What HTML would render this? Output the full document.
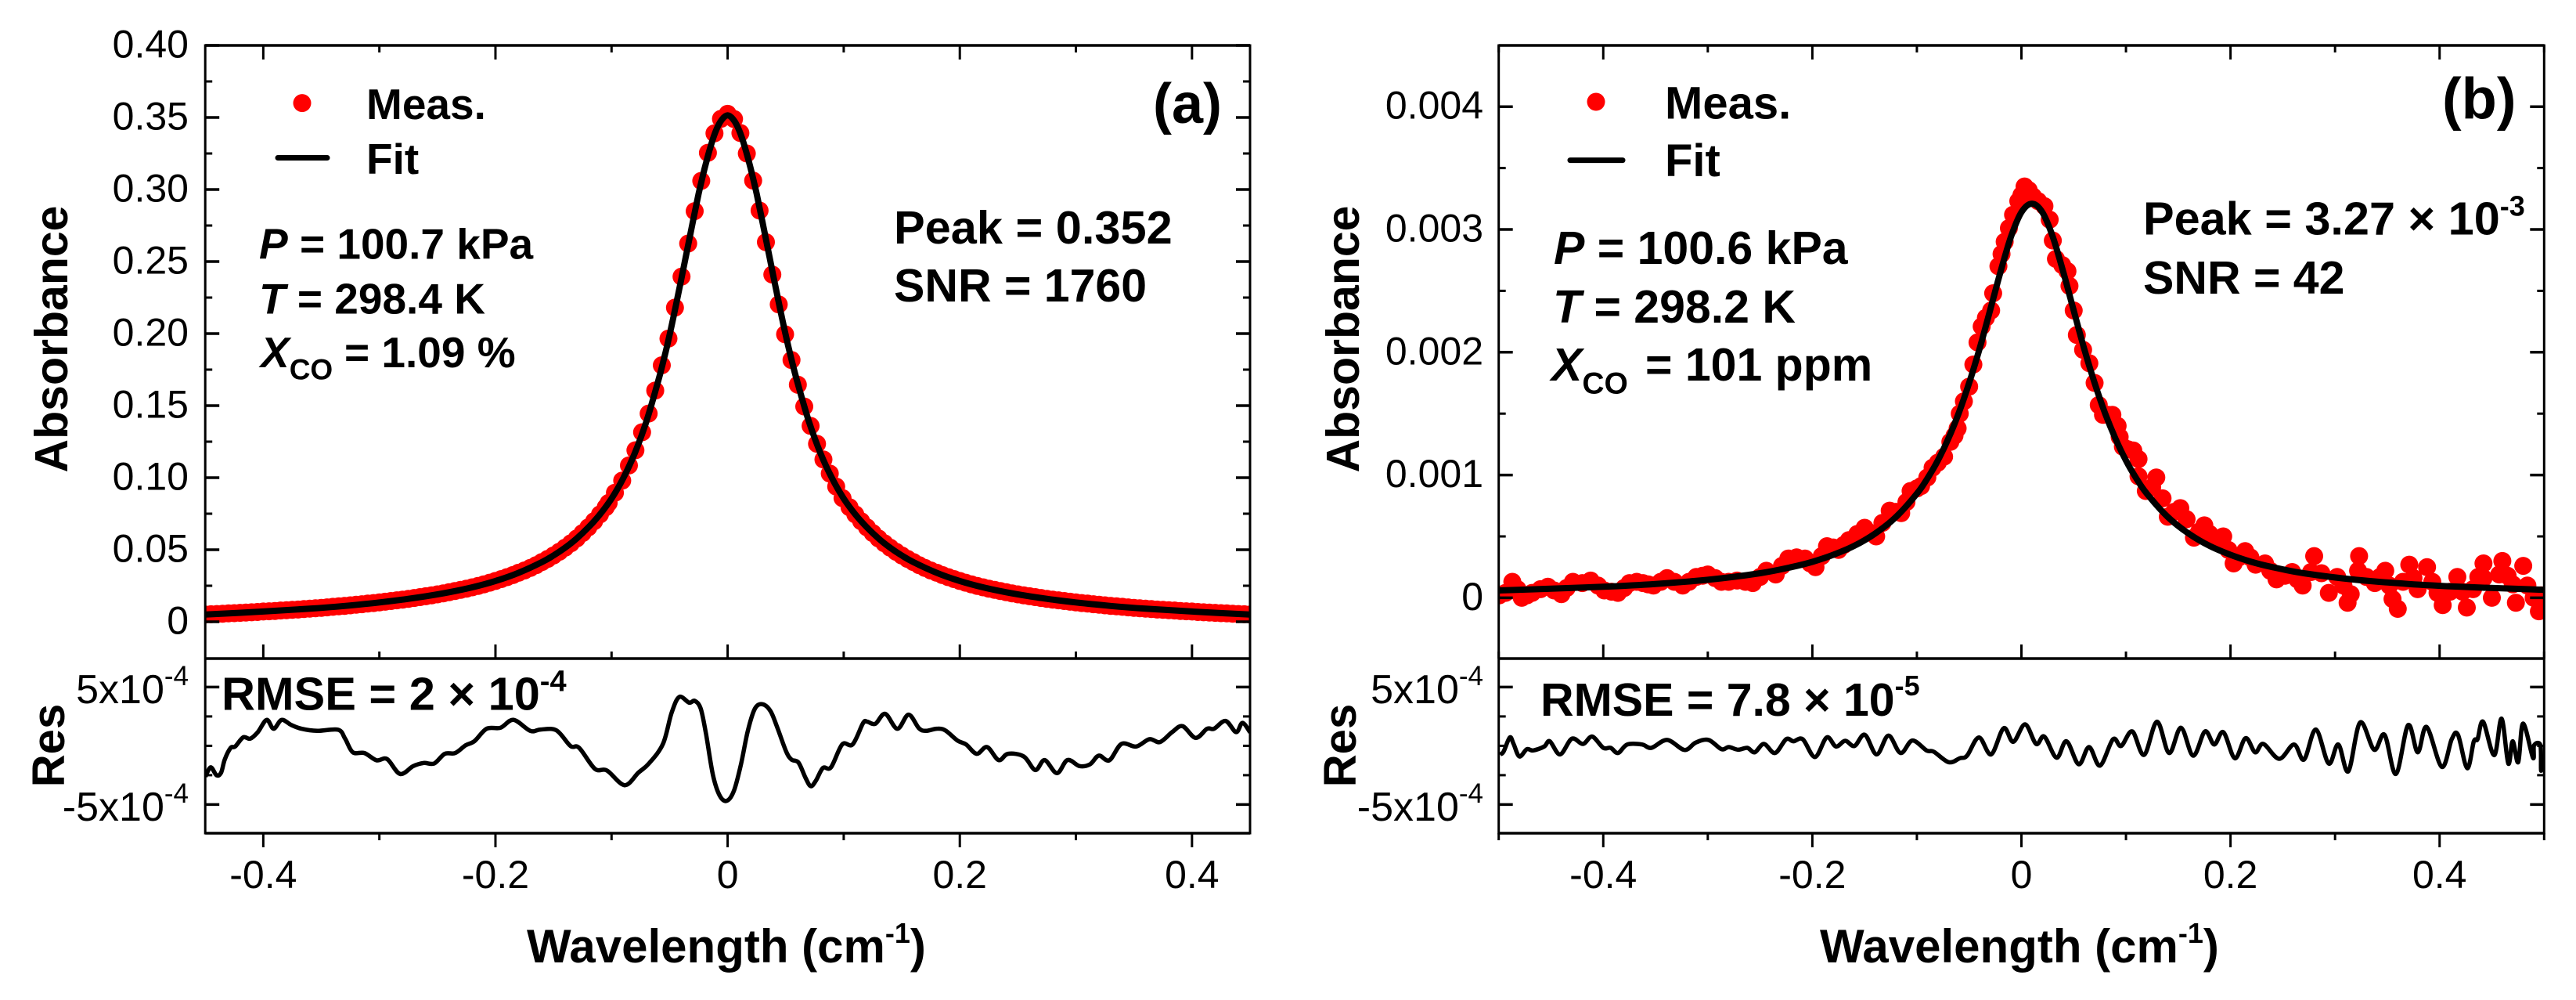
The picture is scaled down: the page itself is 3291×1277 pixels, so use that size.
<!DOCTYPE html>
<html lang="en">
<head>
<meta charset="utf-8">
<title>Absorbance spectra with fit and residuals</title>
<style>
html,body{margin:0;padding:0;background:#fff;}
svg{display:block;}
text{font-family:"Liberation Sans",Arial,sans-serif;fill:#000;}
.b{font-weight:bold;}
</style>
</head>
<body>
<svg id="figure" xmlns="http://www.w3.org/2000/svg" width="3291" height="1277" viewBox="0 0 3291 1277">
  <rect x="0" y="0" width="3291" height="1277" fill="#fff"/>
  <defs>
    <clipPath id="clip-a-top"><rect x="262" y="58" width="1335" height="783"/></clipPath>
    <clipPath id="clip-a-res"><rect x="262" y="841" width="1335" height="223"/></clipPath>
    <clipPath id="clip-b-top"><rect x="1915" y="58" width="1335" height="783"/></clipPath>
    <clipPath id="clip-b-res"><rect x="1915" y="841" width="1335" height="223"/></clipPath>
  </defs>
  <g id="panel-a"></g>
  <g id="panel-b"></g>

  <!-- Panel (a) static text -->
  <text class="b" font-size="59" text-anchor="middle" transform="translate(86,433) rotate(-90)">Absorbance</text>
  <text class="b" font-size="58" text-anchor="middle" transform="translate(82,952) rotate(-90)">Res</text>
  <text class="b" font-size="60" x="673" y="1229">Wavelength (cm<tspan font-size="36" dy="-25">-1</tspan><tspan dy="25">)</tspan></text>
  <circle cx="386" cy="131.6" r="11.5" fill="#ff0000"/>
  <text class="b" font-size="55" x="468" y="152">Meas.</text>
  <line x1="355" y1="201.5" x2="418" y2="201.5" stroke="#000" stroke-width="7" stroke-linecap="round"/>
  <text class="b" font-size="55" x="468" y="222">Fit</text>
  <text class="b" font-size="72" x="1473" y="157">(a)</text>
  <text class="b" font-size="55" x="331" y="330.6"><tspan font-style="italic">P</tspan> = 100.7 kPa</text>
  <text class="b" font-size="55" x="331" y="400.5"><tspan font-style="italic">T</tspan> = 298.4 K</text>
  <text class="b" font-size="55" x="333" y="469"><tspan font-style="italic">X</tspan><tspan font-size="37" dy="15.7">CO</tspan><tspan dy="-15.7" x="440">= 1.09 %</tspan></text>
  <text class="b" font-size="59.5" x="1142" y="311">Peak = 0.352</text>
  <text class="b" font-size="59" x="1142" y="385">SNR = 1760</text>
  <text class="b" font-size="59.5" x="283" y="906.7">RMSE = 2 × 10<tspan font-size="38" dy="-24">-4</tspan></text>

  <!-- Panel (b) static text -->
  <text class="b" font-size="59" text-anchor="middle" transform="translate(1736,433) rotate(-90)">Absorbance</text>
  <text class="b" font-size="58" text-anchor="middle" transform="translate(1732,952) rotate(-90)">Res</text>
  <text class="b" font-size="60" x="2325" y="1229">Wavelength (cm<tspan font-size="36" dy="-25">-1</tspan><tspan dy="25">)</tspan></text>
  <circle cx="2039" cy="130" r="11.5" fill="#ff0000"/>
  <text class="b" font-size="58" x="2127" y="151.5">Meas.</text>
  <line x1="2006" y1="204.6" x2="2073" y2="204.6" stroke="#000" stroke-width="7" stroke-linecap="round"/>
  <text class="b" font-size="58" x="2127" y="225">Fit</text>
  <text class="b" font-size="74" x="3120" y="151.5">(b)</text>
  <text class="b" font-size="59" x="1985" y="337"><tspan font-style="italic">P</tspan> = 100.6 kPa</text>
  <text class="b" font-size="59" x="1984" y="412"><tspan font-style="italic">T</tspan> = 298.2 K</text>
  <text class="b" font-size="59" x="1982" y="486"><tspan font-style="italic">X</tspan><tspan font-size="39" dy="16.5">CO</tspan><tspan dy="-16.5" x="2102">= 101 ppm</tspan></text>
  <text class="b" font-size="59.4" x="2738" y="299.5">Peak = 3.27 × 10<tspan font-size="36" dy="-24">-3</tspan></text>
  <text class="b" font-size="59" x="2738" y="375">SNR = 42</text>
  <text class="b" font-size="59" x="1968" y="914">RMSE = 7.8 × 10<tspan font-size="36" dy="-26">-5</tspan></text>
</svg>

<script>
// ---- Panel (a) data ----
const aXMajor = [-0.4, -0.2, 0, 0.2, 0.4];
const aXMinor = [-0.3, -0.1, 0.1, 0.3];
const aXLabels = ['-0.4', '-0.2', '0', '0.2', '0.4'];
const aYMajor = [0, 0.05, 0.10, 0.15, 0.20, 0.25, 0.30, 0.35, 0.40];
const aYMinor = [0.025, 0.075, 0.125, 0.175, 0.225, 0.275, 0.325, 0.375];
const aYLabels = ['0', '0.05', '0.10', '0.15', '0.20', '0.25', '0.30', '0.35', '0.40'];
// residual axes: all residual values are in units of 5e-5
const resMajor = [-10, 10];
const resMinor = [-5, 0, 5];
const resLabels = ['-5x10', '5x10'];
const resExponents = ['-4', '-4'];

const aWave = [
 -0.45,-0.445,-0.44,-0.435,-0.43,-0.425,-0.42,-0.415,-0.41,-0.405,
 -0.4,-0.395,-0.39,-0.385,-0.38,-0.375,-0.37,-0.365,-0.36,-0.355,
 -0.35,-0.345,-0.34,-0.335,-0.33,-0.325,-0.32,-0.315,-0.31,-0.305,
 -0.3,-0.295,-0.29,-0.285,-0.28,-0.275,-0.27,-0.265,-0.26,-0.255,
 -0.25,-0.245,-0.24,-0.235,-0.23,-0.225,-0.22,-0.215,-0.21,-0.205,
 -0.2,-0.195,-0.19,-0.185,-0.18,-0.175,-0.17,-0.165,-0.16,-0.155,
 -0.15,-0.145,-0.14,-0.135,-0.13,-0.125,-0.12,-0.115,-0.11,-0.105,
 -0.1025,-0.0971,-0.0908,-0.085,-0.0794,-0.0737,-0.068,-0.0624,-0.0567,-0.051,
 -0.0454,-0.0397,-0.034,-0.0284,-0.0227,-0.017,-0.0113,-0.0057,0,
 0.0055,0.011,0.0165,0.022,0.0275,0.033,0.0385,0.044,0.0495,0.055,
 0.0605,0.066,0.0715,0.077,0.0825,0.088,0.0935,0.099,
 0.105,0.11,0.115,0.12,0.125,0.13,0.135,0.14,0.145,0.15,
 0.155,0.16,0.165,0.17,0.175,0.18,0.185,0.19,0.195,0.2,
 0.205,0.21,0.215,0.22,0.225,0.23,0.235,0.24,0.245,0.25,
 0.255,0.26,0.265,0.27,0.275,0.28,0.285,0.29,0.295,0.3,
 0.305,0.31,0.315,0.32,0.325,0.33,0.335,0.34,0.345,0.35,
 0.355,0.36,0.365,0.37,0.375,0.38,0.385,0.39,0.395,0.4,
 0.405,0.41,0.415,0.42,0.425,0.43,0.435,0.44,0.445,0.45
];
const aMeas = [
 0.0050,0.0052,0.0054,0.0056,0.0058,0.0060,0.0062,0.0064,0.0066,0.0068,
 0.0071,0.0073,0.0075,0.0078,0.0080,0.0083,0.0085,0.0088,0.0091,0.0094,
 0.0097,0.0100,0.0104,0.0107,0.0110,0.0114,0.0118,0.0122,0.0126,0.0130,
 0.0134,0.0139,0.0144,0.0149,0.0154,0.0159,0.0165,0.0171,0.0177,0.0183,
 0.0190,0.0197,0.0205,0.0213,0.0221,0.0230,0.0239,0.0249,0.0260,0.0271,
 0.0283,0.0296,0.0310,0.0324,0.0340,0.0356,0.0374,0.0393,0.0414,0.0436,
 0.0460,0.0486,0.0514,0.0545,0.0578,0.0615,0.0655,0.0698,0.0745,0.0795,
 0.0825,0.0895,0.0980,0.1085,0.1190,0.1315,0.1445,0.1605,0.1780,0.1965,
 0.2180,0.2395,0.2625,0.2850,0.3060,0.3255,0.3390,0.3490,0.3525,
 0.3489,0.3392,0.3250,0.3062,0.2854,0.2635,0.2410,0.2202,0.1995,0.1817,
 0.1645,0.1494,0.1359,0.1235,0.1126,0.1029,0.0938,0.0858,
 0.0795,0.0745,0.0698,0.0655,0.0615,0.0578,0.0545,0.0514,0.0486,0.0460,
 0.0436,0.0414,0.0393,0.0374,0.0356,0.0340,0.0324,0.0310,0.0296,0.0283,
 0.0271,0.0260,0.0249,0.0239,0.0230,0.0221,0.0213,0.0205,0.0197,0.0190,
 0.0183,0.0177,0.0171,0.0165,0.0159,0.0154,0.0149,0.0144,0.0139,0.0134,
 0.0130,0.0126,0.0122,0.0118,0.0114,0.0110,0.0107,0.0104,0.0100,0.0097,
 0.0094,0.0091,0.0088,0.0085,0.0083,0.0080,0.0078,0.0075,0.0073,0.0071,
 0.0068,0.0066,0.0064,0.0062,0.0060,0.0058,0.0056,0.0054,0.0052,0.0050
];
const aFitWave = [
 -0.45,-0.4,-0.36,-0.33,-0.3,-0.28,-0.26,-0.24,-0.22,-0.2,-0.18,-0.16,-0.15,-0.14,-0.13,-0.12,-0.11,-0.1,
 -0.09,-0.08,-0.07,-0.06,-0.055,-0.05,-0.045,-0.04,-0.035,-0.03,-0.025,-0.02,-0.015,-0.01,-0.005,0,
 0.005,0.01,0.015,0.02,0.025,0.03,0.035,0.04,0.045,0.05,0.055,0.06,0.07,0.08,0.09,
 0.1,0.11,0.12,0.13,0.14,0.15,0.16,0.18,0.2,0.22,0.24,0.26,0.28,0.3,0.33,0.36,0.4,0.45
];
const aFit = [
 0.0050,0.0071,0.0091,0.0110,0.0134,0.0154,0.0177,0.0205,0.0239,0.0283,0.0340,0.0414,0.0460,0.0514,0.0578,0.0655,0.0745,0.0855,
 0.0995,0.1170,0.1390,0.1665,0.1820,0.1990,0.2180,0.2375,0.2575,0.2775,0.2970,0.3140,0.3290,0.3410,0.3485,0.3515,
 0.3485,0.3410,0.3290,0.3140,0.2970,0.2775,0.2575,0.2375,0.2180,0.1990,0.1820,0.1665,0.1390,0.1170,0.0995,
 0.0855,0.0745,0.0655,0.0578,0.0514,0.0460,0.0414,0.0340,0.0283,0.0239,0.0205,0.0177,0.0154,0.0134,0.0110,0.0091,0.0071,0.0050
];
// residual (units of 5e-5)
const aResWave = [
 -0.4498,-0.4453,-0.4402,-0.4363,-0.4332,-0.4281,-0.4242,-0.4173,-0.4113,-0.4047,
 -0.3971,-0.3911,-0.3842,-0.3761,-0.3671,-0.3535,-0.3355,-0.3295,-0.3229,-0.3129,
 -0.3024,-0.2934,-0.2822,-0.2708,-0.2618,-0.2528,-0.2437,-0.2347,-0.2257,-0.2182,
 -0.2076,-0.1956,-0.1845,-0.1700,-0.1610,-0.1475,-0.1354,-0.1279,-0.1144,-0.1039,
 -0.0888,-0.0768,-0.0678,-0.0557,-0.0482,-0.0416,-0.0332,-0.0283,-0.0232,-0.0187,
 -0.0126,-0.0066,-0.0006,0.0054,0.0114,0.0174,0.0235,0.0301,0.0370,0.0430,
 0.0505,0.0550,0.0611,0.0671,0.0716,0.0761,0.0821,0.0890,0.0987,0.1077,
 0.1167,0.1203,0.1272,0.1357,0.1462,0.1558,0.1648,0.1708,0.1799,0.1874,
 0.1979,0.2054,0.2145,0.2235,0.2334,0.2415,0.2551,0.2650,0.2731,0.2836,
 0.2927,0.3032,0.3122,0.3197,0.3288,0.3393,0.3519,0.3633,0.3724,0.3829,
 0.3919,0.4031,0.4130,0.4190,0.4289,0.4380,0.4435,0.4500
];
const aRes = [
 -5.23,-3.67,-5.01,-4.56,-2.34,-0.34,-0.12,1.44,1.21,2.33,
 4.41,2.90,4.41,3.57,2.90,2.55,2.73,1.21,-1.10,-1.23,
 -2.47,-2.25,-4.79,-3.45,-2.92,-3.01,-1.36,-1.23,0.10,0.77,
 2.90,3.08,4.41,2.55,2.77,2.64,-0.03,-0.34,-3.90,-4.21,
 -6.70,-4.56,-3.01,0.33,5.66,8.32,7.35,7.66,6.33,2.10,
 -5.01,-8.56,-9.36,-7.67,-3.23,2.55,6.33,7.08,5.88,2.99,
 -1.01,-2.34,-2.87,-5.45,-6.87,-5.90,-3.76,-3.67,0.24,0.24,
 3.88,4.10,3.75,5.44,2.90,5.30,2.99,2.55,2.90,2.64,
 0.90,0.24,-1.36,-0.21,-2.43,-1.36,-1.81,-4.12,-2.43,-4.65,
 -2.43,-3.45,-3.14,-1.67,-2.47,0.33,-0.12,1.13,0.64,2.33,
 3.35,1.35,2.90,2.90,4.24,2.33,3.90,2.30
];

// ---- Panel (b) data (absorbance in units of 1e-3) ----
const bXMajor = [-0.4, -0.2, 0, 0.2, 0.4];
const bXMinor = [-0.5, -0.3, -0.1, 0.1, 0.3, 0.5];
const bXLabels = ['-0.4', '-0.2', '0', '0.2', '0.4'];
const bYMajor = [0, 1, 2, 3, 4];
const bYMinor = [0.5, 1.5, 2.5, 3.5];
const bYLabels = ['0', '0.001', '0.002', '0.003', '0.004'];

const bWave = [
 -0.4995,-0.4935,-0.487,-0.482,-0.478,-0.473,-0.468,-0.46,-0.453,-0.447,
 -0.44,-0.435,-0.429,-0.42,-0.412,-0.405,-0.399,-0.392,-0.386,-0.38,
 -0.375,-0.368,-0.362,-0.357,-0.352,-0.345,-0.339,-0.332,-0.324,-0.318,
 -0.311,-0.305,-0.3,-0.293,-0.287,-0.28,-0.272,-0.264,-0.257,-0.25,
 -0.244,-0.235,-0.229,-0.223,-0.215,-0.207,-0.202,-0.197,-0.191,-0.186,
 -0.18,-0.175,-0.17,-0.165,-0.157,-0.15,-0.145,-0.139,-0.133,-0.126,
 -0.12,-0.115,-0.11,-0.106,-0.1,-0.096,-0.09,-0.085,-0.08,-0.074,
 -0.068,-0.064,-0.061,-0.059,-0.055,-0.05,-0.046,-0.042,-0.038,-0.034,
 -0.029,-0.027,-0.022,-0.019,-0.016,-0.012,-0.008,-0.003,0,0.003,
 0.007,0.011,0.016,0.022,0.027,0.03,0.033,0.039,0.044,0.046,
 0.05,0.053,0.059,0.065,0.07,0.074,0.078,0.083,0.087,0.092,
 0.094,0.097,0.102,0.107,0.112,0.112,0.119,0.125,0.129,0.135,
 0.14,0.146,0.152,0.158,0.165,0.17,0.175,0.18,0.185,0.193,
 0.198,0.203,0.208,0.214,0.219,0.224,0.233,0.238,0.244,0.252,
 0.259,0.264,0.269,0.277,0.28,0.287,0.294,0.302,0.308,0.312,
 0.315,0.322,0.323,0.33,0.338,0.343,0.348,0.352,0.355,0.36,
 0.365,0.371,0.375,0.379,0.388,0.393,0.398,0.403,0.41,0.417,
 0.422,0.426,0.432,0.437,0.442,0.442,0.45,0.457,0.46,0.465,
 0.47,0.473,0.48,0.484,0.49,0.495,0.497,0.5
];
const bMeas = [
 0.02,0.04,0.13,0.07,0,0.02,0.04,0.07,0.09,0.06,
 0.03,0.08,0.13,0.12,0.14,0.10,0.06,0.05,0.04,0.08,
 0.12,0.13,0.12,0.11,0.10,0.13,0.16,0.13,0.10,0.13,
 0.17,0.18,0.19,0.16,0.13,0.13,0.14,0.13,0.12,0.17,
 0.22,0.19,0.26,0.32,0.33,0.32,0.28,0.25,0.34,0.42,
 0.41,0.39,0.43,0.47,0.52,0.57,0.53,0.50,0.61,0.71,
 0.70,0.69,0.78,0.87,0.89,0.91,0.98,1.06,1.10,1.15,
 1.27,1.32,1.38,1.50,1.60,1.72,1.90,2.08,2.21,2.28,
 2.34,2.48,2.70,2.80,2.90,3.01,3.12,3.23,3.28,3.35,
 3.32,3.27,3.23,3.19,3.08,2.91,2.76,2.71,2.66,2.54,
 2.34,2.14,2.02,1.91,1.75,1.57,1.49,1.49,1.49,1.40,
 1.31,1.23,1.21,1.20,1.13,0.99,0.87,0.90,0.98,0.81,
 0.66,0.70,0.73,0.64,0.49,0.54,0.59,0.52,0.46,0.50,
 0.39,0.28,0.33,0.38,0.33,0.27,0.28,0.22,0.15,0.18,
 0.21,0.15,0.10,0.21,0.34,0.20,0.04,0.17,0.10,-0.04,
 0.03,0.22,0.34,0.17,0.12,0.17,0.22,0.10,-0.01,-0.09,
 0.13,0.27,0.16,0.07,0.25,0.13,0.04,-0.06,0.05,0.17,
 0.05,-0.08,0.07,0.17,0.28,0.16,0,0.19,0.30,0.18,
 0.11,-0.04,0.26,0.10,0,-0.11,0.02,-0.05
];
const bFitWave = [
 -0.5,-0.45,-0.4,-0.35,-0.3,-0.25,-0.22,-0.2,-0.18,-0.16,-0.14,-0.12,-0.1,-0.09,-0.08,-0.07,-0.06,-0.05,-0.04,-0.03,-0.02,-0.01,0,
 0.01,0.02,0.03,0.04,0.05,0.06,0.07,0.08,0.09,0.1,0.11,0.12,0.14,0.16,0.18,0.2,0.22,0.24,0.27,0.32,0.37,0.42,0.47,0.5
];
const bFit = [
 0.06,0.074,0.09,0.113,0.147,0.2,0.25,0.293,0.35,0.423,0.523,0.658,0.848,0.971,1.118,1.295,1.504,1.75,2.03,2.34,2.655,2.94,3.14,
 3.21,3.14,2.94,2.655,2.34,2.03,1.75,1.504,1.295,1.118,0.971,0.848,0.658,0.523,0.423,0.35,0.293,0.25,0.2,0.147,0.113,0.09,0.074,0.065
];
const bResWave = [
 -0.4989,-0.4954,-0.4894,-0.4858,-0.4802,-0.4731,-0.4671,-0.4565,-0.4512,-0.4413,
 -0.4300,-0.4194,-0.4106,-0.4000,-0.3929,-0.3859,-0.3770,-0.3629,-0.3540,-0.3389,
 -0.3223,-0.3117,-0.2993,-0.2869,-0.2799,-0.2710,-0.2622,-0.2551,-0.2463,-0.2357,
 -0.2251,-0.2180,-0.2092,-0.1975,-0.1862,-0.1774,-0.1686,-0.1597,-0.1498,-0.1385,
 -0.1272,-0.1156,-0.1043,-0.0908,-0.0838,-0.0696,-0.0590,-0.0520,-0.0407,-0.0290,
 -0.0170,-0.0078,0.0035,0.0141,0.0219,0.0336,0.0431,0.0548,0.0647,0.0752,
 0.0876,0.0954,0.1060,0.1173,0.1297,0.1413,0.1526,0.1643,0.1756,0.1844,
 0.1932,0.2042,0.2144,0.2236,0.2314,0.2466,0.2607,0.2703,0.2816,0.2939,
 0.3031,0.3127,0.3240,0.3374,0.3473,0.3582,0.3699,0.3791,0.3876,0.4021,
 0.4116,0.4176,0.4264,0.4328,0.4363,0.4416,0.4522,0.4593,0.4657,0.4699,
 0.4752,0.4798,0.4893,0.4904,0.4964,0.4971,0.4992
];
const bRes = [
 -1.46,-1.01,1.43,0.32,-1.81,-0.57,-0.79,-0.12,0.77,-1.46,
 1.21,0.32,1.57,-0.35,-0.35,-1.23,0.23,0.23,-0.35,1.00,
 -0.70,0.54,1.00,-0.57,-0.21,-0.66,-0.35,-1.10,0.32,-1.23,
 1.12,0.77,1.12,-1.90,1.43,-0.12,0.85,-0.03,1.88,-1.46,
 1.74,-1.23,0.90,-0.79,-1.01,-2.79,-2.12,-1.68,1.43,-1.46,
 2.99,0.68,3.65,0.32,1.57,-2.03,0.77,-3.14,-0.21,-3.37,
 1.12,-0.03,2.46,-1.55,4.10,-1.23,3.08,-1.68,2.46,0.23,
 2.32,-2.12,1.30,-1.10,0.32,-2.21,0.23,-2.34,2.77,-3.01,
 0.23,-4.34,3.97,-0.66,1.88,-4.79,3.52,-1.10,3.21,-3.59,
 1.12,1.88,-3.81,0.77,1.12,4.10,-1.59,4.63,-3.01,0.77,
 -2.79,3.79,-2.03,0.10,0.10,-4.21,-1.46
];

// ---- Drawing helpers ----
const SVGNS = 'http://www.w3.org/2000/svg';

function linearAxis(d0, d1, r0, r1) {
  return function (v) { return r0 + (v - d0) / (d1 - d0) * (r1 - r0); };
}

function make(tag, parent) {
  const node = document.createElementNS(SVGNS, tag);
  parent.appendChild(node);
  return node;
}

function smoothPath(xs, ys, xAxis, yAxis) {
  const p = xs.map(function (x, i) { return [xAxis(x), yAxis(ys[i])]; });
  let d = 'M' + p[0][0].toFixed(1) + ' ' + p[0][1].toFixed(1);
  for (let i = 0; i < p.length - 1; i++) {
    const a = p[Math.max(i - 1, 0)], b = p[i], c = p[i + 1], e = p[Math.min(i + 2, p.length - 1)];
    const c1x = b[0] + (c[0] - a[0]) / 6, c1y = b[1] + (c[1] - a[1]) / 6;
    const c2x = c[0] - (e[0] - b[0]) / 6, c2y = c[1] - (e[1] - b[1]) / 6;
    d += 'C' + c1x.toFixed(1) + ' ' + c1y.toFixed(1) + ' ' + c2x.toFixed(1) + ' ' + c2y.toFixed(1) + ' ' + c[0].toFixed(1) + ' ' + c[1].toFixed(1);
  }
  return d;
}

function drawLine(parent, x1, y1, x2, y2, w, name) {
  const l = make('line', parent);
  l.setAttribute('x1', x1);
  l.setAttribute('y1', y1);
  l.setAttribute('x2', x2);
  l.setAttribute('y2', y2);
  l.setAttribute('stroke', '#000');
  l.setAttribute('stroke-width', w);
  
  
  return l;
}

function drawCurve(parent, xs, ys, xAxis, yAxis, width, clipId, name) {
  const path = make('path', parent);
  path.setAttribute('d', smoothPath(xs, ys, xAxis, yAxis));
  path.setAttribute('fill', 'none');
  path.setAttribute('stroke', '#000');
  path.setAttribute('stroke-width', width);
  path.setAttribute('stroke-linejoin', 'round');
  path.setAttribute('clip-path', 'url(#' + clipId + ')');
  
  
}

function drawPoints(parent, xs, ys, xAxis, yAxis, clipId) {
  const g = make('g', parent);
  g.setAttribute('clip-path', 'url(#' + clipId + ')');
  
  
  xs.forEach(function (x, i) {
    const c = make('circle', g);
    c.setAttribute('cx', xAxis(x).toFixed(1));
    c.setAttribute('cy', yAxis(ys[i]).toFixed(1));
    c.setAttribute('r', 11.5);
    c.setAttribute('fill', '#ff0000');
    
    
  });
}

function drawTickLabel(parent, x, y, size, anchor, label, exponent) {
  const t = make('text', parent);
  t.setAttribute('x', x);
  t.setAttribute('y', y);
  t.setAttribute('font-size', size);
  t.setAttribute('text-anchor', anchor);
  
  
  t.textContent = label;
  if (exponent) {
    const s = make('tspan', t);
    s.setAttribute('font-size', 35);
    s.setAttribute('dy', -23);
    s.textContent = exponent;
  }
}

function drawPanel(cfg) {
  const g = document.getElementById(cfg.id);
  const L = cfg.left, R = cfg.right, T = 58, M = 841, B = 1064;
  const x = linearAxis(cfg.xDomain[0], cfg.xDomain[1], L, R);
  const y = linearAxis(cfg.yDomain[0], cfg.yDomain[1], cfg.yRange[0], cfg.yRange[1]);
  const r = linearAxis(-10, 10, 1027.4, 877.4);

  drawPoints(g, cfg.wave, cfg.meas, x, y, cfg.clip + '-top');
  drawCurve(g, cfg.fitWave, cfg.fit, x, y, 8, cfg.clip + '-top', 'fit-curve');
  drawCurve(g, cfg.resWave, cfg.res, x, r, 5.5, cfg.clip + '-res', 'residual-curve');

  // spines
  drawLine(g, L, T - 1.5, L, B + 1.5, 3, 'left-spine');
  drawLine(g, R, T - 1.5, R, B + 1.5, 3, 'right-spine');
  drawLine(g, L, T, R, T, 3.5, 'top-spine');
  drawLine(g, L, M, R, M, 3.5, 'divider-spine');
  drawLine(g, L, B, R, B, 3.5, 'bottom-spine');

  // x ticks
  cfg.xMajor.forEach(function (v, i) {
    const px = x(v);
    drawLine(g, px, T, px, T + 18, 3, 'x-tick-major');
    drawLine(g, px, M, px, M - 18, 3, 'x-tick-major');
    drawLine(g, px, B, px, B + 18, 3, 'x-tick-major');
    drawTickLabel(g, px, 1134, 50, 'middle', cfg.xLabels[i]);
  });
  cfg.xMinor.forEach(function (v) {
    const px = x(v);
    drawLine(g, px, T, px, T + 9, 3, 'x-tick-minor');
    drawLine(g, px, M, px, M - 9, 3, 'x-tick-minor');
    drawLine(g, px, B, px, B + 9, 3, 'x-tick-minor');
  });

  // y ticks (upper)
  cfg.yMajor.forEach(function (v, i) {
    const py = y(v);
    drawLine(g, L, py, L + 18, py, 3.5, 'y-tick-major');
    drawLine(g, R, py, R - 18, py, 3.5, 'y-tick-major');
    drawTickLabel(g, cfg.labelX, py + 15.5, 50, 'end', cfg.yLabels[i]);
  });
  cfg.yMinor.forEach(function (v) {
    const py = y(v);
    drawLine(g, L, py, L + 9, py, 3, 'y-tick-minor');
    drawLine(g, R, py, R - 9, py, 3, 'y-tick-minor');
  });

  // residual ticks
  resMajor.forEach(function (v, i) {
    const py = r(v);
    drawLine(g, L, py, L + 18, py, 3.5, 'res-tick-major');
    drawLine(g, R, py, R - 18, py, 3.5, 'res-tick-major');
    drawTickLabel(g, cfg.labelX, py + 20.5, 52, 'end', resLabels[i], resExponents[i]);
  });
  resMinor.forEach(function (v) {
    const py = r(v);
    drawLine(g, L, py, L + 9, py, 3, 'res-tick-minor');
    drawLine(g, R, py, R - 9, py, 3, 'res-tick-minor');
  });
}

drawPanel({
  id: 'panel-a', clip: 'clip-a', left: 262.2, right: 1597,
  xDomain: [-0.45, 0.45], yDomain: [0, 0.4], yRange: [794, 58], labelX: 241,
  wave: aWave, meas: aMeas, fitWave: aFitWave, fit: aFit, resWave: aResWave, res: aRes,
  xMajor: aXMajor, xMinor: aXMinor, xLabels: aXLabels,
  yMajor: aYMajor, yMinor: aYMinor, yLabels: aYLabels
});
drawPanel({
  id: 'panel-b', clip: 'clip-b', left: 1914.7, right: 3250.3,
  xDomain: [-0.5, 0.5], yDomain: [0, 4], yRange: [763.4, 136.2], labelX: 1895,
  wave: bWave, meas: bMeas, fitWave: bFitWave, fit: bFit, resWave: bResWave, res: bRes,
  xMajor: bXMajor, xMinor: bXMinor, xLabels: bXLabels,
  yMajor: bYMajor, yMinor: bYMinor, yLabels: bYLabels
});
</script>
</body>
</html>
